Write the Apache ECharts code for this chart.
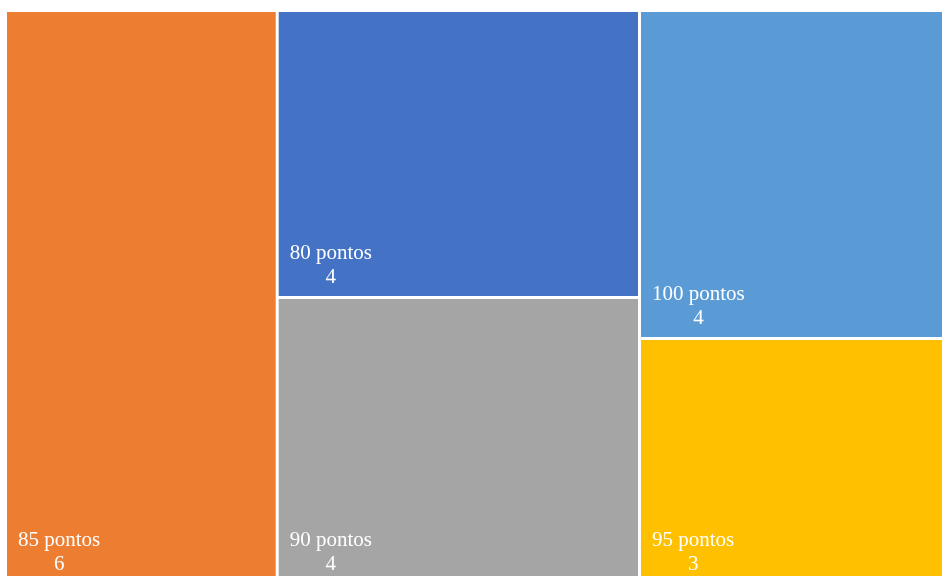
<!DOCTYPE html>
<html>
<head>
<meta charset="utf-8">
<script src="https://cdn.jsdelivr.net/npm/echarts@6/dist/echarts.min.js"></script>
<style>
html,body{margin:0;padding:0;background:#fff;}
#chart{width:942px;height:576px;}
</style>
</head>
<body>
<div id="chart"></div>
<script>
// Data
const names = ['85 pontos', '80 pontos', '90 pontos', '100 pontos', '95 pontos'];
const values = [6, 4, 4, 4, 3];
const colors = ['#ED7D31', '#4472C4', '#A5A5A5', '#5B9BD5', '#FFC000'];
// grouping of categories into the treemap's column branches (indexes into the arrays above)
const groups = [[0], [1, 2], [3, 4]];

const FONT = '21px "Liberation Serif"';
const ctx = document.createElement('canvas').getContext('2d');
ctx.font = FONT;
const tw = s => ctx.measureText(String(s)).width;

const leaf = i => ({
  name: names[i], value: values[i], itemStyle: { color: colors[i] },
  label: { rich: { v: { padding: [0, 0, 0, Math.max(0, (tw(names[i]) - tw(values[i])) / 2)] } } }
});
const data = groups.map(g => g.length === 1 ? leaf(g[0]) : { name: '', children: g.map(leaf) });

const chart = echarts.init(document.getElementById('chart'));
chart.setOption({
  animation: false,
  series: [{
    type: 'treemap',
    left: 7, top: 12, width: 948, height: 571,
    roam: false,
    nodeClick: false,
    sort: false,
    squareRatio: 1,
    breadcrumb: { show: false },
    itemStyle: { borderWidth: 0, gapWidth: 3, borderColor: '#fff' },
    label: {
      show: true,
      formatter: p => '{n|' + p.name + '}\n{v|' + p.value + '}',
      rich: {
        n: { fontFamily: 'Liberation Serif', fontSize: 21, color: '#fff', lineHeight: 24 },
        v: { fontFamily: 'Liberation Serif', fontSize: 21, color: '#fff', lineHeight: 24 }
      }
    },
    labelLayout: function (params) {
      const r = params.rect;
      return { x: r.x + 6, y: r.y + r.height - 60, align: 'left', verticalAlign: 'top' };
    },
    upperLabel: { show: false },
    emphasis: { disabled: true },
    data: data
  }]
});
</script>
</body>
</html>
